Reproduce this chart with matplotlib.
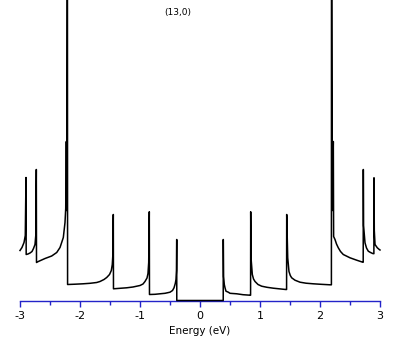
import matplotlib
matplotlib.use("Agg")
import matplotlib.pyplot as plt
from matplotlib.ticker import MultipleLocator

plt.rcParams['axes.unicode_minus'] = False
plt.rcParams['font.family'] = ['DejaVu Sans']

# Density of states of a (13,0) nanotube (arbitrary units)
energy = [
    -3.000, -2.967, -2.933, -2.912, -2.900, -2.897, -2.867, -2.833, -2.800, -2.775,
    -2.750, -2.737, -2.728, -2.725, -2.695, -2.583, -2.472, -2.388, -2.333, -2.278,
    -2.250, -2.238, -2.228, -2.220, -2.210, -2.207, -2.083, -1.950, -1.833, -1.722,
    -1.667, -1.600, -1.555, -1.508, -1.478, -1.462, -1.453, -1.445, -1.442, -1.333,
    -1.222, -1.117, -1.000, -0.950, -0.917, -0.883, -0.867, -0.855, -0.845, -0.842,
    -0.750, -0.667, -0.583, -0.500, -0.458, -0.433, -0.412, -0.400, -0.392, -0.388,
    -0.387,
    0.387, 0.388, 0.393, 0.405, 0.417, 0.433, 0.472, 0.500, 0.612, 0.717,
    0.833, 0.843, 0.845, 0.850, 0.872, 0.892, 0.917, 0.967, 1.028, 1.117,
    1.222, 1.333, 1.428, 1.443, 1.445, 1.462, 1.483, 1.505, 1.528, 1.583,
    1.667, 1.767, 1.888, 2.017, 2.167, 2.190, 2.192, 2.205, 2.222, 2.227,
    2.250, 2.275, 2.305, 2.342, 2.388, 2.500, 2.612, 2.712, 2.720, 2.722,
    2.726, 2.750, 2.775, 2.805, 2.842, 2.878, 2.898, 2.900, 2.905, 2.917,
    2.955, 2.988, 3.000,
]
dos = [
    50.0, 53.0, 58.0, 65.0, 123.0, 46.0, 46.5, 47.5, 49.0, 52.0,
    56.0, 65.0, 131.0, 38.0, 39.0, 42.0, 44.5, 48.0, 53.0, 63.0,
    78.0, 92.0, 159.0, 90.0, 400.0, 16.0, 16.3, 16.7, 17.2, 18.0,
    19.0, 21.0, 23.0, 26.0, 30.0, 36.0, 45.0, 86.0, 11.7, 12.2,
    12.7, 13.5, 15.0, 16.5, 19.0, 22.5, 27.0, 38.0, 88.7, 6.0,
    6.2, 6.7, 7.2, 8.3, 10.0, 12.7, 17.0, 21.0, 30.0, 61.0,
    0.0,
    0.0, 61.0, 24.0, 16.0, 12.7, 9.3, 8.3, 7.2, 6.7, 5.8,
    5.3, 5.3, 88.7, 43.0, 26.0, 21.5, 19.0, 16.0, 14.3, 13.2,
    12.3, 11.6, 11.0, 11.0, 86.0, 42.7, 29.0, 25.0, 22.7, 20.3,
    18.3, 17.3, 16.7, 16.2, 15.7, 15.7, 400.0, 90.0, 159.0, 64.0,
    61.0, 56.5, 52.7, 49.0, 46.0, 42.7, 40.3, 38.3, 38.3, 131.0,
    75.0, 57.7, 52.5, 49.3, 48.0, 47.0, 46.8, 122.7, 70.0, 56.0,
    52.7, 51.0, 50.5,
]
x_ticks = [-3, -2, -1, 0, 1, 2, 3]
x_label = "Energy (eV)"
title = "(13,0)"

W, H = 409, 345
fig = plt.figure(figsize=(W / 100, H / 100), dpi=100)
ax = fig.add_axes([20 / W, (H - 300.5) / H, 360 / W, 300.5 / H])
ax.plot(energy, dos, color='black', lw=1.1, zorder=3, clip_on=False)
ax.set_xlim(-3, 3)
ax.set_ylim(0, 300.5)

blue = '#2323c8'
for s in ['top', 'right', 'left']:
    ax.spines[s].set_visible(False)
ax.spines['bottom'].set_color(blue)
ax.spines['bottom'].set_linewidth(1.0)
ax.set_yticks([])
ax.set_xticks(x_ticks)
ax.set_xticklabels([str(t) for t in x_ticks])
ax.xaxis.set_minor_locator(MultipleLocator(0.5))
ax.tick_params(axis='x', which='major', direction='out', length=4.5, width=1.0,
               color=blue, labelsize=8, pad=3, labelcolor='black')
ax.tick_params(axis='x', which='minor', direction='out', length=3.0, width=1.0,
               color=blue)
ax.set_xlabel(x_label, fontsize=7.5, labelpad=3.5)
fig.text(178 / W, 1 - 13 / H, title, fontsize=6.5, ha='center', va='center')

fig.savefig('out.png', dpi=100)
